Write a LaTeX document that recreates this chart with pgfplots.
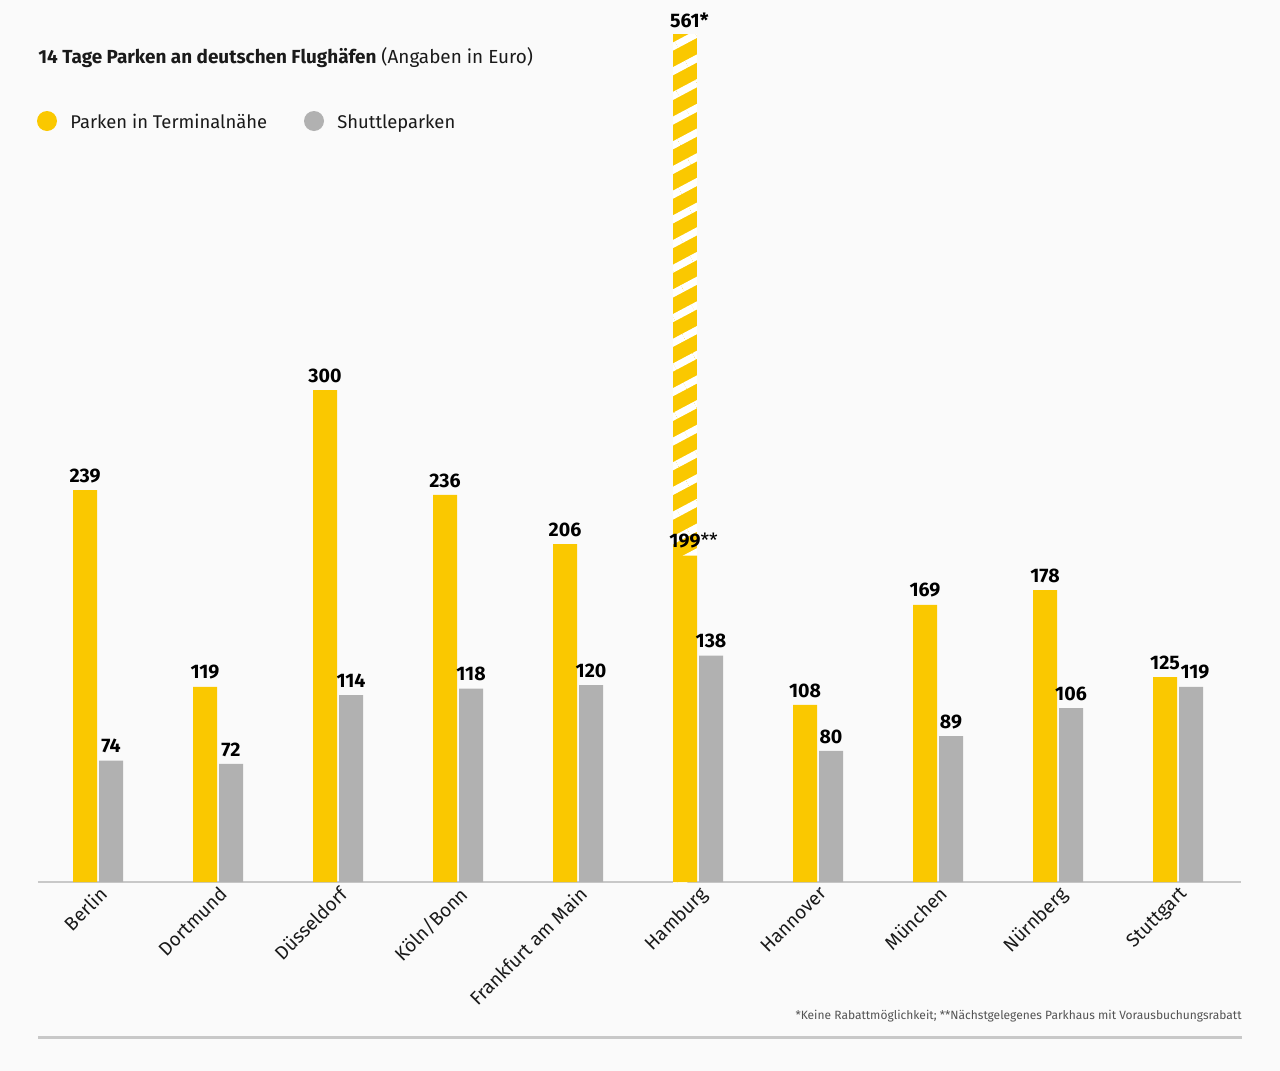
\documentclass[border=0pt]{standalone}
\usepackage{pgfplots}
\pgfplotsset{compat=1.18}
\usetikzlibrary{patterns.meta}
\usepackage{fontspec}
\setmainfont{Fira Sans}
\definecolor{gelb}{HTML}{FAC800}
\definecolor{grau}{HTML}{B1B1B1}
\definecolor{bg}{HTML}{FAFAFA}
\definecolor{linie}{HTML}{C8C8C8}
\definecolor{txt}{HTML}{1A1A1A}
\begin{document}
\begin{tikzpicture}
\fill[bg] (0,0) rectangle (640pt,-535.5pt);
\path[use as bounding box] (0,0) rectangle (640pt,-535.5pt);
\node[anchor=base west, inner sep=0pt, font=\fontsize{9.45}{11}\selectfont, text=txt] at (19pt,-31.5pt) {\textbf{14 Tage Parken an deutschen Flughäfen} (Angaben in Euro)};
\fill[gelb] (23.5pt,-60.5pt) circle (5pt);
\node[anchor=base west, inner sep=0pt, font=\fontsize{9.2}{11}\selectfont, text=txt] at (35pt,-64pt) {Parken in Terminalnähe};
\fill[grau] (157pt,-60.5pt) circle (5pt);
\node[anchor=base west, inner sep=0pt, font=\fontsize{9.2}{11}\selectfont, text=txt] at (168.5pt,-64pt) {Shuttleparken};
\begin{axis}[
  at={(19pt,-441pt)}, anchor=south west,
  width=601.5pt, height=423.5pt, scale only axis,
  xmin=-0.5, xmax=9.525, ymin=0, ymax=516.5,
  axis y line=none, axis x line=bottom,
  x axis line style={-, draw=linie, line width=1pt},
  xtick={0,...,9},
  xticklabels={Berlin,Dortmund,Düsseldorf,Köln/Bonn,Frankfurt am Main,Hamburg,Hannover,München,Nürnberg,Stuttgart},
  major tick length=0pt,
  xticklabel style={rotate=45, anchor=north east, font=\fontsize{9.5}{11}\selectfont, text=txt, inner sep=1pt},
  ybar, bar width=12pt,
  every node near coord/.append style={font=\bfseries\fontsize{9.8}{11}\selectfont, text=black, inner sep=0pt, yshift=3.5pt},
]
\addplot[bar shift=-6.5pt, draw=none, fill=gelb,
  postaction={pattern={Lines[angle=28,distance=10.9pt,line width=3.6pt]}, pattern color=white}]
  coordinates {(5,561)};
\addplot[bar shift=-6.5pt, draw=none, fill=gelb, nodes near coords, point meta=explicit symbolic]
  coordinates {(0,239)[239] (1,119)[119] (2,300)[300] (3,236)[236] (4,206)[206] (5,199)[199\rlap{\mdseries**}] (6,108)[108] (7,169)[169] (8,178)[178] (9,125)[125\hspace{3pt}]};
\addplot[bar shift=6.5pt, draw=none, fill=grau, nodes near coords, point meta=explicit symbolic]
  coordinates {(0,74)[74] (1,72)[72] (2,114)[114] (3,118)[118] (4,120)[120] (5,138)[138] (6,80)[80] (7,89)[89] (8,106)[106] (9,119)[\hspace{4pt}119]};
\coordinate (hh) at (axis cs:5,516.5);
\end{axis}
\node[anchor=base, inner sep=0pt, font=\bfseries\fontsize{9.8}{11}\selectfont, text=black] at ([xshift=-6.5pt, yshift=3.5pt]hh) {561\rlap{*}};
\node[anchor=base east, inner sep=0pt, font=\fontsize{6}{7}\selectfont, text=txt!75] at (621pt,-509.5pt) {*Keine Rabattmöglichkeit; **Nächstgelegenes Parkhaus mit Vorausbuchungsrabatt};
\draw[linie, line width=1.5pt] (19pt,-518.5pt) -- (621pt,-518.5pt);
\end{tikzpicture}
\end{document}
